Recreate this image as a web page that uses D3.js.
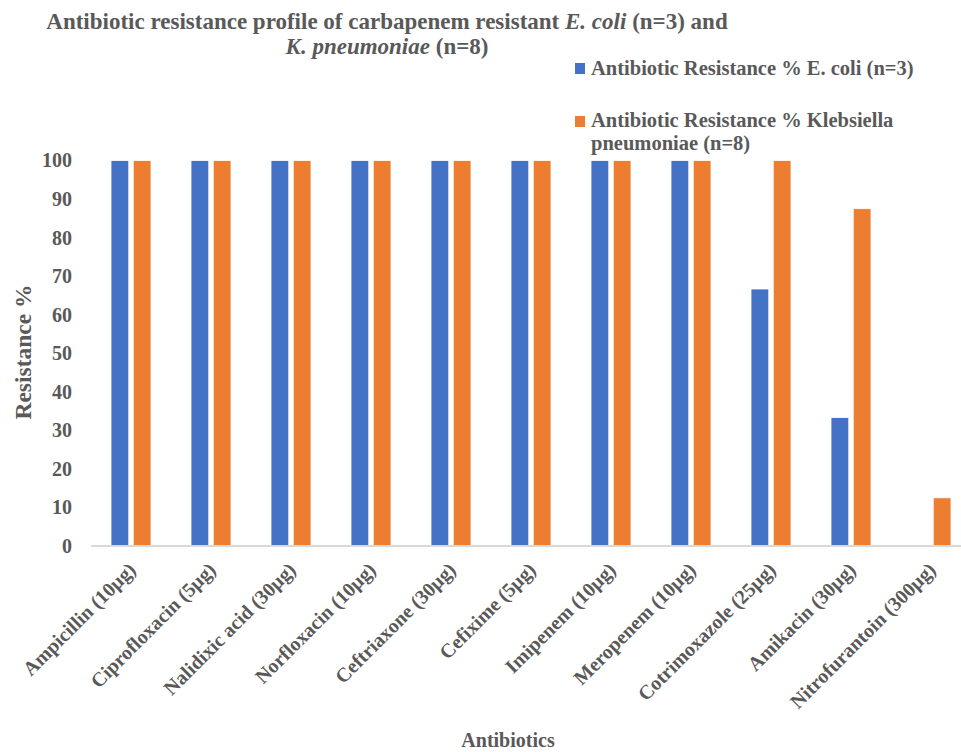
<!DOCTYPE html>
<html>
<head>
<meta charset="utf-8">
<script src="https://cdn.jsdelivr.net/npm/d3@7"></script>
<style>
  html, body { margin: 0; padding: 0; background: #fff; }
  svg { display: block; }
  text { font-family: "Liberation Serif", "Times New Roman", serif; font-weight: bold; fill: #595959; }
</style>
</head>
<body>
<svg id="chart" width="961" height="752"></svg>
<script>
const categories = ["Ampicillin (10µg)", "Ciprofloxacin (5µg)", "Nalidixic acid (30µg)", "Norfloxacin (10µg)",
  "Ceftriaxone (30µg)", "Cefixime (5µg)", "Imipenem (10µg)", "Meropenem (10µg)",
  "Cotrimoxazole (25µg)", "Amikacin (30µg)", "Nitrofurantoin (300µg)"];
const ecoli = [100, 100, 100, 100, 100, 100, 100, 100, 66.67, 33.33, 0];
const kpneu = [100, 100, 100, 100, 100, 100, 100, 100, 100, 87.5, 12.5];
const seriesNames = ["Antibiotic Resistance % E. coli (n=3)", "Antibiotic Resistance % Klebsiella pneumoniae (n=8)"];
const seriesColors = ["#4472C4", "#ED7D31"];
const yTicks = [0, 10, 20, 30, 40, 50, 60, 70, 80, 90, 100];

const svg = d3.select("#chart");
const x0 = 91, x1 = 971, yTop = 160.5, yBot = 546;

const x = d3.scaleBand().domain(categories).range([x0, x1]).paddingInner(0.5).paddingOuter(0.25);
const xs = d3.scaleBand().domain([0, 1]).range([0, x.bandwidth()]).paddingInner(0.2);
const y = d3.scaleLinear().domain([0, 100]).range([yBot, yTop]);

const data = categories.map((c, i) => ({ c, vals: [ecoli[i], kpneu[i]] }));

const g = svg.append("g");
g.selectAll("g.cat").data(data).join("g")
  .attr("transform", d => `translate(${x(d.c)},0)`)
  .selectAll("rect").data(d => d.vals.map((v, k) => ({ v, k }))).join("rect")
  .filter(d => d.v > 0)
  .attr("x", d => xs(d.k))
  .attr("width", xs.bandwidth())
  .attr("y", d => y(d.v))
  .attr("height", d => y(0) - y(d.v))
  .attr("fill", d => seriesColors[d.k])
  .attr("stroke", "#fff").attr("stroke-width", 0.8);

// x axis line
svg.append("line").attr("x1", x0).attr("x2", x1).attr("y1", yBot).attr("y2", yBot)
  .attr("stroke", "#d9d9d9").attr("stroke-width", 2);

// y axis
const yAxis = d3.axisLeft(y).tickValues(yTicks).tickSize(0).tickPadding(0);
const ya = svg.append("g").attr("transform", `translate(72,0)`).call(yAxis);
ya.select(".domain").remove();
ya.selectAll("text").attr("font-size", 20).attr("font-family", "Liberation Serif").attr("font-weight", "bold").attr("fill", "#595959");

// x labels
svg.append("g").selectAll("text").data(categories).join("text")
  .attr("transform", d => `translate(${x(d) + x.bandwidth() / 2 + 1},${yBot + 20}) rotate(-45)`)
  .attr("text-anchor", "end").attr("dy", "0.35em")
  .attr("font-size", 20)
  .text(d => d);

// axis titles
svg.append("text").attr("transform", `translate(31,352) rotate(-90)`)
  .attr("text-anchor", "middle").attr("font-size", 23.5).text("Resistance %");
svg.append("text").attr("x", 508).attr("y", 747).attr("text-anchor", "middle")
  .attr("font-size", 20).text("Antibiotics");

// title
const t1 = svg.append("text").attr("x", 387).attr("y", 29).attr("text-anchor", "middle").attr("font-size", 23);
t1.append("tspan").text("Antibiotic resistance profile of carbapenem resistant ");
t1.append("tspan").attr("font-style", "italic").text("E. coli");
t1.append("tspan").text(" (n=3) and");
const t2 = svg.append("text").attr("x", 387).attr("y", 54).attr("text-anchor", "middle").attr("font-size", 23);
t2.append("tspan").attr("font-style", "italic").text("K. pneumoniae");
t2.append("tspan").text(" (n=8)");

// legend
const lg = svg.append("g");
lg.append("rect").attr("x", 575).attr("y", 63).attr("width", 10).attr("height", 11).attr("fill", seriesColors[0]);
lg.append("text").attr("x", 591).attr("y", 75).attr("font-size", 20.5).text(seriesNames[0]);
lg.append("rect").attr("x", 575).attr("y", 116).attr("width", 10).attr("height", 11).attr("fill", seriesColors[1]);
lg.append("text").attr("x", 591).attr("y", 127).attr("font-size", 20.5).text("Antibiotic Resistance % Klebsiella");
lg.append("text").attr("x", 591).attr("y", 150).attr("font-size", 20.5).text("pneumoniae (n=8)");
</script>
</body>
</html>
